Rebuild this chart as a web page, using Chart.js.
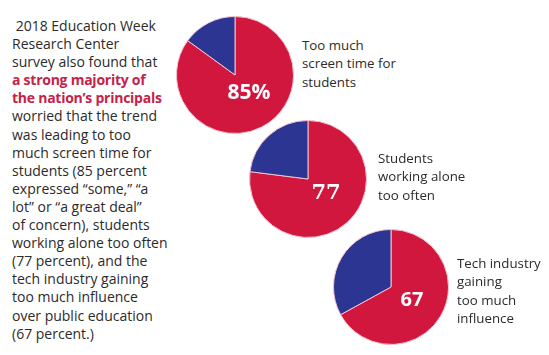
<!DOCTYPE html>
<html>
<head>
<meta charset="utf-8">
<script src="https://cdn.jsdelivr.net/npm/chart.js@4"></script>
<style>
  body { margin: 0; background: #fff; width: 549px; height: 355px; overflow: hidden; position: relative; font-family: 'Open Sans', sans-serif; color: #2b2b2b; }
  .intro { position: absolute; left: 12px; top: 17px; font-size: 14px; line-height: 18.1px; white-space: nowrap; }
  .intro b { color: #c4224a; font-weight: 700; letter-spacing: -0.25px; }
  .lbl { position: absolute; font-size: 13.3px; line-height: 18.3px; white-space: nowrap; }
  canvas.pie { position: absolute; }
</style>
</head>
<body>
<div class="intro">&nbsp;2018 Education Week<br>Research Center<br>survey also found that<br><b>a strong majority of<br>the nation’s principals</b><br>worried that the trend<br>was leading to too<br>much screen time for<br>students (85 percent<br>expressed “some,” “a<br>lot” or “a great deal”<br>of concern), students<br>working alone too often<br>(77 percent), and the<br>tech industry gaining<br>too much influence<br>over public education<br>(67 percent.)</div>

<canvas class="pie" id="pie0" width="118" height="118" style="left:176px;top:16px"></canvas>
<canvas class="pie" id="pie1" width="118" height="118" style="left:249px;top:120px"></canvas>
<canvas class="pie" id="pie2" width="116" height="116" style="left:333px;top:229px"></canvas>

<div class="lbl" id="lbl0" style="left:302px;top:36px"></div>
<div class="lbl" id="lbl1" style="left:378px;top:149px"></div>
<div class="lbl" id="lbl2" style="left:457px;top:254px"></div>

<script>
// Survey data
const topicLines = [
  ['Too much', 'screen time for', 'students'],
  ['Students', 'working alone', 'too often'],
  ['Tech industry', 'gaining', 'too much', 'influence'],
];
const concernedPct = [85, 77, 67];
const otherPct = [15, 23, 33];
const centerLabels = ['85%', '77', '67'];

const red = '#d2173f';
const blue = '#2d3592';

// where the number sits, relative to the pie centre
const labelOffsets = [[14, 18], [18, 15], [21, 13]];
const labelFonts = [
  '700 21px "Open Sans", sans-serif',
  'bold 21px "DejaVu Serif", "Liberation Serif", serif',
  '700 20px "Open Sans", sans-serif',
];

const centerText = {
  id: 'centerText',
  afterDatasetsDraw(chart, args, opts) {
    const arc = chart.getDatasetMeta(0).data[0];
    const ctx = chart.ctx;
    ctx.save();
    ctx.fillStyle = '#fff';
    ctx.font = opts.font;
    ctx.textAlign = 'center';
    ctx.textBaseline = 'middle';
    ctx.fillText(opts.text, arc.x + opts.dx, arc.y + opts.dy);
    ctx.restore();
  },
};

concernedPct.forEach((pct, i) => {
  document.getElementById('lbl' + i).innerHTML = topicLines[i].join('<br>');

  const ctx = document.getElementById('pie' + i).getContext('2d');
  new Chart(ctx, {
    type: 'pie',
    data: {
      labels: ['Concerned', 'Other'],
      datasets: [
        {
          data: [pct, otherPct[i]],
          backgroundColor: [red, blue],
          borderColor: '#f3c3cf',
          borderWidth: 1,
        },
      ],
    },
    options: {
      responsive: false,
      animation: false,
      layout: { padding: 0 },
      plugins: {
        legend: { display: false },
        tooltip: { enabled: false },
        centerText: {
          text: centerLabels[i],
          font: labelFonts[i],
          dx: labelOffsets[i][0],
          dy: labelOffsets[i][1],
        },
      },
    },
    plugins: [centerText],
  });
});
</script>
</body>
</html>
